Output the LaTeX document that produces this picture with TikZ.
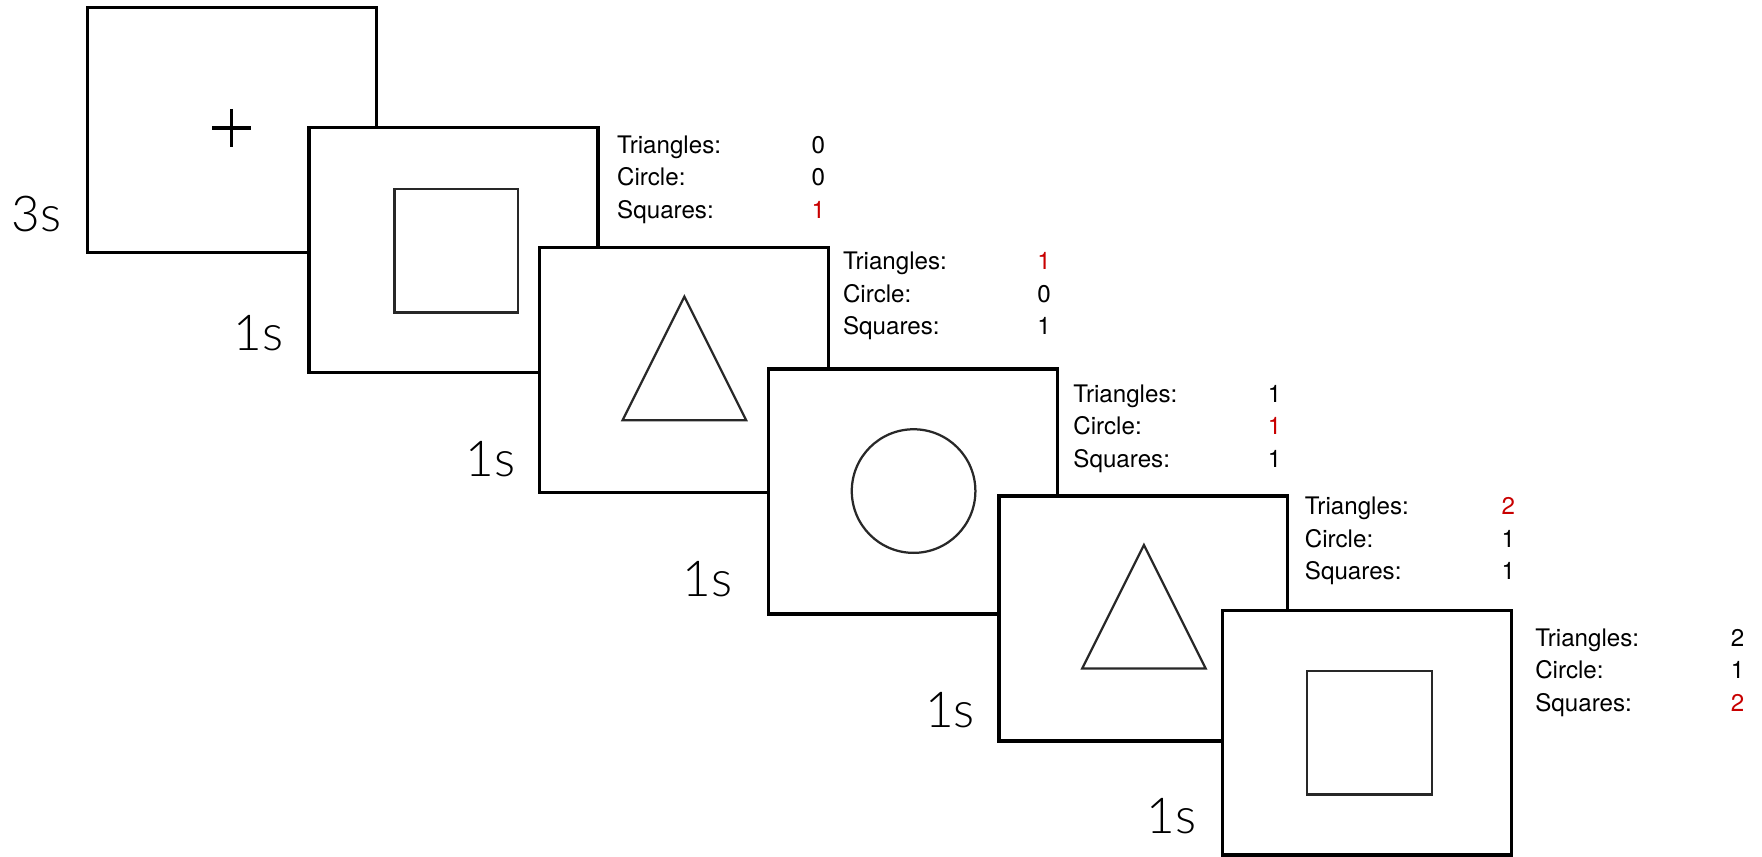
\documentclass[tikz,border=0pt]{standalone}
\usepackage{fontspec}
\setmainfont{TeX Gyre Heros}
\newfontfamily\thinfont{Lato}[UprightFont=* Light]
\definecolor{hit}{RGB}{200,0,0}
\definecolor{ink}{RGB}{40,40,40}
\begin{document}
\begin{tikzpicture}[x=1pt,y=-1pt,
  frame/.style={draw=black,line width=3pt,fill=white,minimum width=257pt,minimum height=218pt,anchor=north west,inner sep=0pt,outer sep=0pt},
  figline/.style={draw=ink,line width=2pt},
  lbl/.style={anchor=base west,font=\fontsize{21.5}{22}\selectfont,inner sep=0pt},
  red/.style={text=hit},
  dur/.style={anchor=base west,font=\thinfont\fontsize{44}{44}\selectfont,inner sep=0pt}]
\useasboundingbox (0,0) rectangle (1568,762);

% frame 1
\node[frame] (f1) at (78,6.5) {};
\draw[black,line width=3pt] (189,114) -- (223,114) (206,97) -- (206,131);
\node[dur] (t1) at (10,206) {3s};

% frame 2
\node[frame] (f2) at (275,113.5) {};
\draw[figline] (351,168) rectangle (461,278);
\node[dur] (t2) at (208,312) {1s};
\node[lbl] (a1) at (549,136.5) {Triangles:};
\node[lbl] (b1) at (549,165.5) {Circle:};
\node[lbl] (c1) at (549,194.5) {Squares:};
\node[lbl] (a1n) at (722,136.5) {0};
\node[lbl] (b1n) at (722,165.5) {0};
\node[lbl,red] (c1n) at (722,194.5) {1};

% frame 3
\node[frame] (f3) at (480,220.5) {};
\draw[figline] (609,264) -- (664,374) -- (554,374) -- cycle;
\node[dur] (t3) at (414,424) {1s};
\node[lbl] (a2) at (750,240) {Triangles:};
\node[lbl] (b2) at (750,269) {Circle:};
\node[lbl] (c2) at (750,298) {Squares:};
\node[lbl,red] (a2n) at (923,240) {1};
\node[lbl] (b2n) at (923,269) {0};
\node[lbl] (c2n) at (923,298) {1};

% frame 4
\node[frame] (f4) at (684,328.5) {};
\draw[figline] (813,437) circle (55);
\node[dur] (t4) at (607,531) {1s};
\node[lbl] (a3) at (955,358) {Triangles:};
\node[lbl] (b3) at (955,387) {Circle:};
\node[lbl] (c3) at (955,416) {Squares:};
\node[lbl] (a3n) at (1128,358) {1};
\node[lbl,red] (b3n) at (1128,387) {1};
\node[lbl] (c3n) at (1128,416) {1};

% frame 5
\node[frame] (f5) at (889,441.5) {};
\draw[figline] (1018,485) -- (1073,595) -- (963,595) -- cycle;
\node[dur] (t5) at (823,647) {1s};
\node[lbl] (a4) at (1161,458) {Triangles:};
\node[lbl] (b4) at (1161,487) {Circle:};
\node[lbl] (c4) at (1161,516) {Squares:};
\node[lbl,red] (a4n) at (1336,458) {2};
\node[lbl] (b4n) at (1336,487) {1};
\node[lbl] (c4n) at (1336,516) {1};

% frame 6
\node[frame] (f6) at (1088,543) {};
\draw[figline] (1163,597) rectangle (1274,707);
\node[dur] (t6) at (1020,742) {1s};
\node[lbl] (a5) at (1366,575) {Triangles:};
\node[lbl] (b5) at (1366,604) {Circle:};
\node[lbl] (c5) at (1366,633) {Squares:};
\node[lbl] (a5n) at (1540,575) {2};
\node[lbl] (b5n) at (1540,604) {1};
\node[lbl,red] (c5n) at (1540,633) {2};
\end{tikzpicture}
\end{document}
